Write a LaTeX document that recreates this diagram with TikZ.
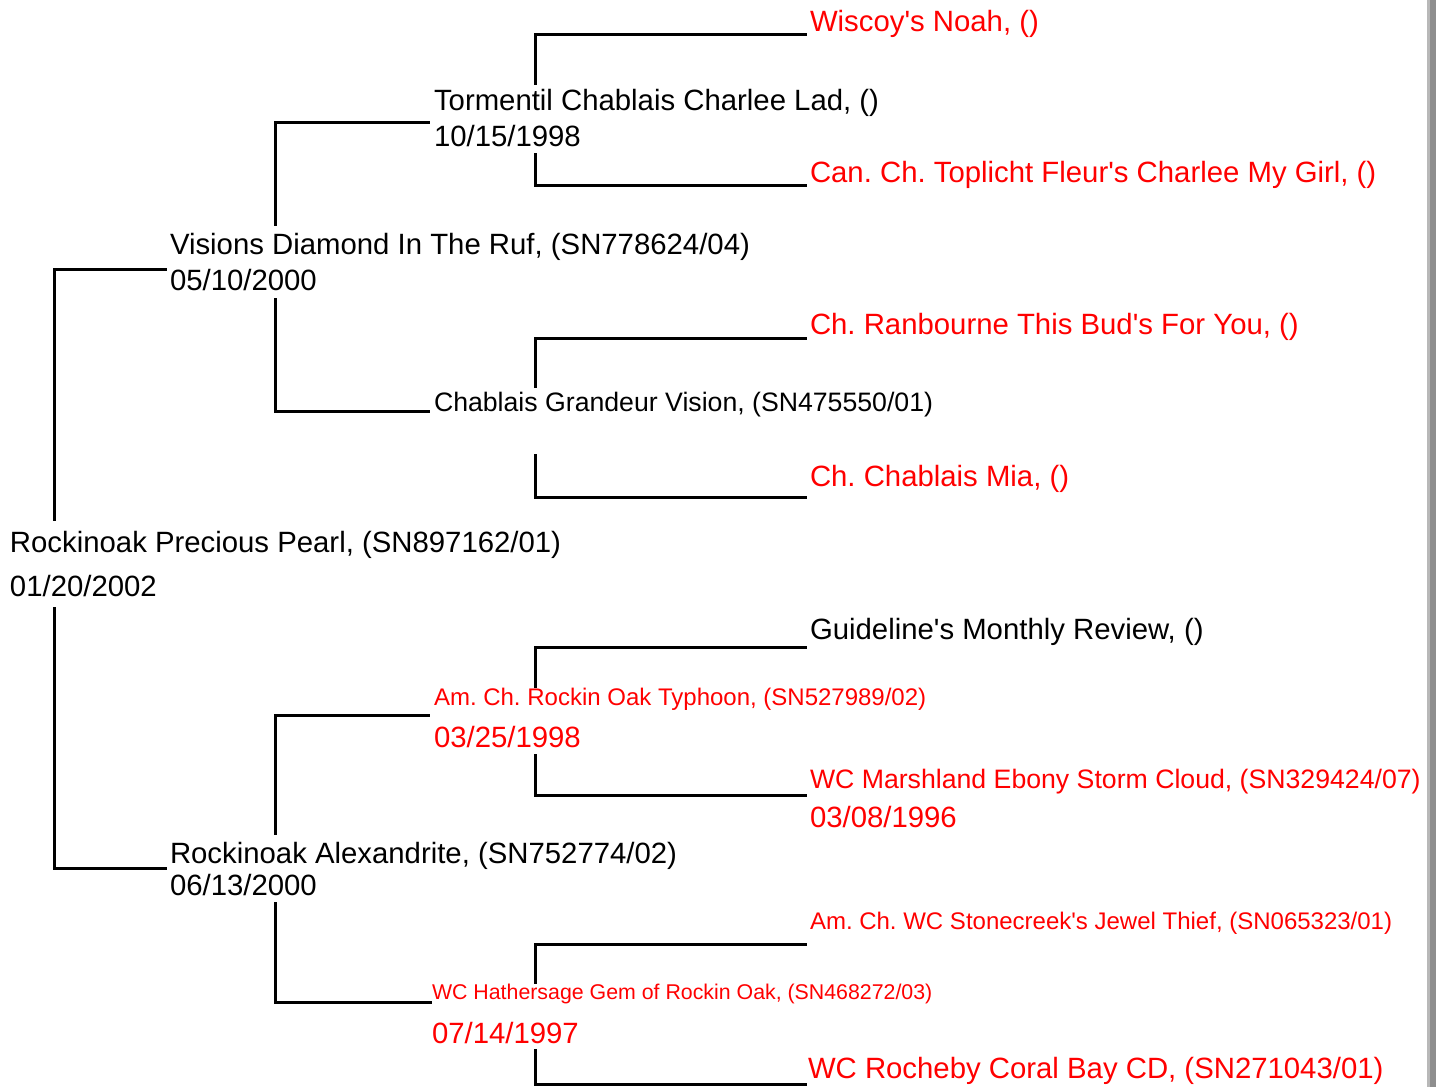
\documentclass[tikz,border=0pt]{standalone}
\usepackage{fontspec}
\setmainfont[Ligatures=TeXOff]{Liberation Sans}
\definecolor{pedred}{HTML}{FF0000}
\definecolor{barlight}{HTML}{B8B8B8}
\definecolor{bardark}{HTML}{8E8E8E}
\frenchspacing
\begin{document}
\begin{tikzpicture}[x=0.75pt,y=-0.75pt,
  txt/.style={anchor=base west,inner sep=0pt,outer sep=0pt},
  big/.style={txt,font=\fontsize{22}{26}\selectfont\frenchspacing},
  mid/.style={txt,font=\fontsize{20}{24}\selectfont\frenchspacing},
  sml/.style={txt,font=\fontsize{18}{22}\selectfont\frenchspacing},
  tiny/.style={txt,font=\fontsize{16}{19}\selectfont\frenchspacing},
  dead/.style={text=pedred},
  conn/.style={draw=black,line width=2.25pt,line cap=rect}]
\useasboundingbox (0,0) rectangle (1436,1087);
\fill[white] (0,0) rectangle (1436,1087);
% scroll bar edge
\fill[barlight] (1427,0) rectangle (1429.5,1087);
\fill[bardark] (1429.5,0) rectangle (1436,1087);

% ---- texts ----
\node[big] (root) at (10,552) {Rockinoak Precious Pearl, (SN897162/01)};
\node[big] (rootd) at (10,596) {01/20/2002};

\node[big] (vis) at (170,255) {Visions Diamond In The Ruf, (SN778624/04)};
\node[big] (visd) at (170,291) {05/10/2000};

\node[big] (tor) at (434,111) {Tormentil Chablais Charlee Lad, ()};
\node[big] (tord) at (434,147) {10/15/1998};
\node[big,dead] (wis) at (810,32) {Wiscoy's Noah, ()};
\node[big,dead] (can) at (810,183) {Can. Ch. Toplicht Fleur's Charlee My Girl, ()};

\node[mid] (cgv) at (434,412) {Chablais Grandeur Vision, (SN475550/01)};
\node[big,dead] (ran) at (810,335) {Ch. Ranbourne This Bud's For You, ()};
\node[big,dead] (mia) at (810,487) {Ch. Chablais Mia, ()};

\node[big] (alex) at (170,863) {Rockinoak Alexandrite, (SN752774/02)};
\node[big] (alexd) at (170,895) {06/13/2000};

\node[sml,dead] (typ) at (434,705) {Am. Ch. Rockin Oak Typhoon, (SN527989/02)};
\node[big,dead] (typd) at (434,747) {03/25/1998};
\node[big] (gui) at (810,639) {Guideline's Monthly Review, ()};
\node[mid,dead] (mar) at (810,788) {WC Marshland Ebony Storm Cloud, (SN329424/07)};
\node[big,dead] (mard) at (810,827) {03/08/1996};

\node[tiny,dead] (hat) at (432,999) {WC Hathersage Gem of Rockin Oak, (SN468272/03)};
\node[big,dead] (hatd) at (432,1043) {07/14/1997};
\node[sml,dead] (sto) at (810,929) {Am. Ch. WC Stonecreek's Jewel Thief, (SN065323/01)};
\node[big,dead] (roc) at (808,1078) {WC Rocheby Coral Bay CD, (SN271043/01)};

% ---- connector end points ----
\coordinate (rootUp) at (54,520);
\coordinate (rootDn) at (54,608);
\coordinate (visIn) at (165,270);
\coordinate (alexIn) at (165,868);

\coordinate (visUp) at (275,225);
\coordinate (visDn) at (275,300);
\coordinate (torIn) at (428,123);
\coordinate (cgvIn) at (428,412);

\coordinate (alexUp) at (275,833);
\coordinate (alexDn) at (275,903);
\coordinate (typIn) at (428,715);
\coordinate (hatIn) at (430,1002);

\coordinate (torUp) at (535,84);
\coordinate (torDn) at (535,155);
\coordinate (wisIn) at (805,35);
\coordinate (canIn) at (805,186);

\coordinate (cgvUp) at (535,387);
\coordinate (cgvDn) at (535,456);
\coordinate (ranIn) at (805,339);
\coordinate (miaIn) at (805,498);

\coordinate (typUp) at (535,686);
\coordinate (typDn) at (535,755);
\coordinate (guiIn) at (805,647);
\coordinate (marIn) at (805,795);

\coordinate (hatUp) at (535,982);
\coordinate (hatDn) at (535,1050);
\coordinate (stoIn) at (805,944);
\coordinate (rocIn) at (805,1084);

% ---- connectors ----
\draw[conn] (rootUp) |- (visIn);
\draw[conn] (rootDn) |- (alexIn);
\draw[conn] (visUp) |- (torIn);
\draw[conn] (visDn) |- (cgvIn);
\draw[conn] (alexUp) |- (typIn);
\draw[conn] (alexDn) |- (hatIn);
\draw[conn] (torUp) |- (wisIn);
\draw[conn] (torDn) |- (canIn);
\draw[conn] (cgvUp) |- (ranIn);
\draw[conn] (cgvDn) |- (miaIn);
\draw[conn] (typUp) |- (guiIn);
\draw[conn] (typDn) |- (marIn);
\draw[conn] (hatUp) |- (stoIn);
\draw[conn] (hatDn) |- (rocIn);
\end{tikzpicture}
\end{document}
